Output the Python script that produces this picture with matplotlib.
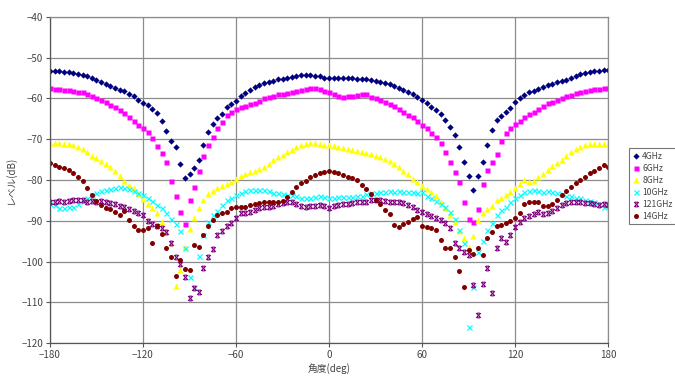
import numpy as np
import matplotlib
matplotlib.use("Agg")
import matplotlib.pyplot as plt
from matplotlib.path import Path

plt.rcParams['font.family'] = ['Noto Sans CJK JP', 'DejaVu Sans']

# measurement angles, every 3 degrees
angle = np.arange(-180, 181, 3)

level_4g = [
    -53.2, -53.2, -53.3, -53.4, -53.5, -53.7, -53.9, -54.2, -54.6, -55.0,
    -55.4, -55.9, -56.4, -57.0, -57.4, -57.8, -58.2, -58.8, -59.5, -60.3,
    -61.0, -61.7, -62.6, -63.6, -65.5, -68.0, -70.5, -71.8, -76.0, -79.5,
    -78.5, -77.0, -75.0, -71.5, -68.2, -66.3, -64.8, -63.8, -62.2, -61.3,
    -60.5, -59.5, -58.7, -57.8, -57.2, -56.7, -56.2, -55.9, -55.6, -55.3,
    -55.1, -54.9, -54.7, -54.5, -54.3, -54.2, -54.2, -54.4, -54.6, -54.9,
    -55.0,
    -55.0, -54.9, -54.9, -54.9, -55.0, -55.1, -55.2, -55.3, -55.4, -55.6,
    -55.9, -56.2, -56.5, -57.0, -57.5, -58.0, -58.4, -58.9, -59.6, -60.3,
    -61.1, -62.0, -62.9, -63.9, -65.3, -67.0, -69.0, -72.0, -75.5, -79.0,
    -82.5, -79.0, -75.5, -71.5, -67.8, -65.3, -64.2, -63.2, -62.3, -60.8,
    -59.8, -59.1, -58.5, -58.1, -57.6, -57.1, -56.8, -56.4, -56.0, -55.7,
    -55.4, -55.0, -54.5, -54.0, -53.7, -53.5, -53.3, -53.2, -53.1, -53.0,
]

level_6g = [
    -57.5, -57.6, -57.7, -57.9, -58.0, -58.2, -58.3, -58.5, -58.9, -59.3,
    -59.8, -60.3, -60.9, -61.5, -62.1, -62.8, -63.6, -64.5, -65.5, -66.4,
    -67.3, -68.2, -69.8, -71.6, -73.3, -75.5, -80.2, -84.0, -87.8, -90.8,
    -85.0, -81.8, -77.8, -74.0, -71.5, -69.5, -67.2, -65.8, -64.1, -63.3,
    -62.6, -62.2, -61.9, -61.4, -61.0, -60.5, -60.0, -59.6, -59.3, -59.0,
    -58.8, -58.6, -58.4, -58.2, -57.9, -57.7, -57.5, -57.5, -57.6, -58.2,
    -58.5,
    -59.0, -59.5, -59.6, -59.5, -59.3, -59.1, -59.0, -59.0, -59.6, -60.0,
    -60.4, -60.9, -61.4, -61.9, -62.6, -63.4, -64.1, -64.6, -65.5, -66.4,
    -67.3, -68.4, -69.4, -70.8, -73.2, -75.6, -78.0, -80.5, -85.5, -89.5,
    -90.2, -87.0, -81.0, -77.5, -75.6, -73.5, -70.5, -68.4, -67.2, -66.2,
    -65.5, -64.6, -63.9, -63.3, -62.6, -61.9, -61.2, -60.8, -60.3, -59.9,
    -59.5, -59.1, -58.7, -58.4, -58.1, -57.9, -57.7, -57.6, -57.5, -57.5,
]

level_8g = [
    -71.0, -71.0, -71.0, -71.1, -71.2, -71.4, -71.8, -72.3, -73.2, -74.0,
    -74.7, -75.4, -76.0, -76.8, -77.8, -79.0, -80.3, -81.2, -82.0, -83.5,
    -84.7, -86.0, -86.8, -88.2, -90.3, -92.8, -95.5, -106.0, -102.0, -96.5,
    -92.0, -89.4, -86.9, -84.8, -83.4, -82.6, -82.0, -81.5, -81.0, -80.4,
    -79.8, -79.0, -78.5, -78.1, -77.8, -77.3, -76.9, -76.0, -75.2, -74.4,
    -73.8, -73.2, -72.6, -71.9, -71.5, -71.2, -71.0, -71.0, -71.1, -71.3,
    -71.5,
    -71.7, -72.0, -72.2, -72.4, -72.7, -73.0, -73.1, -73.4, -73.7, -74.0,
    -74.3, -74.8, -75.3, -76.0, -76.9, -77.7, -78.6, -79.8, -80.6, -81.4,
    -82.3, -83.0, -83.8, -85.5, -86.8, -88.6, -90.4, -92.5, -94.2, -96.4,
    -93.8, -89.8, -88.0, -87.2, -86.3, -85.0, -84.3, -83.6, -82.9, -82.0,
    -81.0, -80.1, -80.6, -80.2, -79.3, -78.5, -77.6, -76.6, -75.8, -75.1,
    -74.1, -73.1, -72.5, -71.9, -71.5, -71.2, -71.2, -71.1, -71.2, -71.2,
]

level_10g = [
    -85.8, -86.2, -86.8, -86.9, -86.5, -86.5, -85.8, -85.2, -84.3, -83.6,
    -83.2, -82.8, -82.5, -82.2, -82.0, -81.8, -82.0, -82.3, -82.7, -83.2,
    -83.7, -84.5, -85.1, -86.1, -86.9, -88.0, -89.5, -90.7, -92.5, -96.8,
    -103.7, -106.2, -98.6, -93.5, -90.2, -88.5, -87.6, -86.1, -85.0, -84.4,
    -83.6, -83.2, -82.8, -82.5, -82.4, -82.4, -82.5, -82.7, -83.1, -83.3,
    -83.5, -83.6, -83.7, -84.0, -84.3, -84.5, -84.4, -84.1, -84.0, -84.2,
    -84.5,
    -84.4, -84.1, -84.1, -84.2, -84.1, -84.0, -83.8, -83.5, -83.3, -83.2,
    -83.0, -82.9, -82.8, -82.9, -82.8, -82.9, -82.9, -83.0, -83.2, -83.0,
    -83.8, -84.5, -85.2, -86.0, -86.6, -87.8, -89.5, -92.3, -95.5, -116.0,
    -106.2, -97.6, -95.0, -92.3, -90.5, -88.6, -87.4, -86.6, -85.4, -84.3,
    -83.6, -83.0, -82.6, -82.5, -82.7, -82.9, -82.8, -82.9, -83.1, -83.5,
    -83.8, -84.0, -84.3, -84.5, -84.8, -85.2, -85.4, -86.0, -86.5, -85.7,
]

level_121g = [
    -85.3, -85.5, -85.2, -85.4, -85.1, -85.0, -84.8, -85.0, -85.3, -85.1,
    -85.4, -85.2, -85.4, -85.6, -86.0, -86.3, -86.7, -87.0, -87.6, -88.2,
    -88.7, -90.0, -90.8, -91.4, -91.8, -92.8, -95.5, -98.8, -100.6, -103.7,
    -109.0, -106.4, -107.5, -101.5, -98.8, -97.0, -93.5, -92.5, -91.2, -90.6,
    -89.4, -88.2, -88.0, -87.8, -87.3, -86.9, -86.7, -86.5, -86.3, -85.9,
    -85.7, -85.5, -85.3, -85.8, -86.4, -86.5, -86.4, -86.3, -86.1, -86.4,
    -86.8,
    -86.4, -86.1, -85.9, -85.8, -85.7, -85.5, -85.4, -85.3, -85.0, -84.9,
    -85.0, -85.1, -85.3, -85.4, -85.5, -85.7, -86.2, -86.7, -87.3, -87.8,
    -88.3, -88.8, -89.3, -89.8, -90.5, -91.8, -95.5, -96.6, -97.6, -98.4,
    -105.8, -113.0, -105.5, -101.5, -107.8, -96.8, -94.3, -95.2, -93.5, -91.5,
    -90.2, -89.4, -88.8, -88.4, -87.8, -88.4, -88.1, -87.6, -86.8, -86.1,
    -85.6, -85.3, -85.3, -85.4, -85.6, -85.7, -85.9, -86.1, -86.0, -86.1,
]

level_14g = [
    -75.9, -76.2, -76.7, -77.1, -77.5, -78.2, -79.2, -80.3, -82.0, -83.7,
    -85.2, -86.2, -86.8, -87.2, -87.9, -88.6, -87.5, -89.8, -91.4, -92.2,
    -92.3, -91.8, -95.5, -91.2, -93.3, -96.8, -98.8, -103.6, -99.6, -101.9,
    -102.1, -96.0, -96.4, -93.5, -91.4, -89.8, -88.6, -88.2, -87.8, -86.9,
    -86.6, -86.5, -86.5, -86.1, -85.9, -85.7, -85.5, -85.3, -85.3, -85.3,
    -85.2, -84.1, -82.9, -81.6, -80.8, -80.2, -79.2, -78.7, -78.3, -78.0,
    -77.8,
    -78.1, -78.4, -78.8, -79.2, -79.6, -80.0, -81.2, -82.3, -83.5, -84.8,
    -86.0, -87.4, -88.3, -91.0, -91.5, -90.9, -90.2, -89.6, -89.0, -91.2,
    -91.6, -91.8, -92.2, -94.8, -96.8, -96.6, -98.8, -102.3, -106.2, -97.2,
    -98.2, -96.8, -98.4, -94.3, -92.7, -91.4, -91.0, -90.6, -90.0, -89.4,
    -88.2, -86.0, -85.4, -85.5, -85.3, -86.3, -86.4, -86.0, -84.8, -83.6,
    -82.8, -81.8, -80.8, -80.0, -79.2, -78.4, -77.8, -77.1, -76.4, -76.7,
]

labels = ["4GHz", "6GHz", "8GHz", "10GHz", "121GHz", "14GHz"]
colors = ["#000080", "#ff00ff", "#ffff00", "#00ffff", "#800080", "#800000"]

# x with short bars top and bottom (Excel-like star marker)
bar_x = Path(
    [(-1, -1), (1, 1), (-1, 1), (1, -1), (-0.6, 1), (0.6, 1), (-0.6, -1), (0.6, -1)],
    [Path.MOVETO, Path.LINETO] * 4,
)

styles = [
    dict(marker="D", ms=3.2, mec="none"),
    dict(marker="s", ms=3.6, mec="none"),
    dict(marker="^", ms=4.2, mec="none"),
    dict(marker="x", ms=3.6, mew=0.9),
    dict(marker=bar_x, ms=3.4, mew=0.8, mfc="none"),
    dict(marker="o", ms=3.6, mec="none"),
]

series = [level_4g, level_6g, level_8g, level_10g, level_121g, level_14g]

fig = plt.figure(figsize=(6.75, 3.77), dpi=100)
ax = fig.add_axes([0.074, 0.090, 0.827, 0.865])

for vals, lab, col, st in zip(series, labels, colors, styles):
    kw = dict(st)
    if kw.get("mec") != "none":
        kw["mec"] = col
    ax.plot(angle, vals, linestyle="none", color=col, label=lab, **kw)

ax.set_xlim(-180, 180)
ax.set_ylim(-120, -40)
ax.set_xticks(range(-180, 181, 60))
ax.set_yticks(range(-120, -39, 10))
ax.grid(True, color="#8c8c8c", linewidth=0.9)
ax.set_axisbelow(True)
for s in ax.spines.values():
    s.set_color("#8c8c8c")
    s.set_linewidth(0.9)
ax.spines["left"].set_color("#555555")
ax.spines["bottom"].set_color("#555555")
ax.tick_params(direction="out", length=3, width=0.8, color="#555555",
               labelsize=7, labelcolor="#444444", pad=2)

ax.set_xlabel("角度(deg)", fontsize=7, color="#444444", labelpad=2)
ax.set_ylabel("レベル(dB)", fontsize=7, color="#444444", labelpad=4)

leg = ax.legend(loc="upper left", bbox_to_anchor=(1.03, 0.61), fontsize=6.2,
                frameon=True, fancybox=False, edgecolor="#555555",
                handlelength=0.8, handletextpad=0.3, labelspacing=0.35,
                borderpad=0.4, markerscale=1.0)
leg.get_frame().set_linewidth(0.8)
for t in leg.get_texts():
    t.set_color("#444444")

fig.savefig("out.png", dpi=100)
